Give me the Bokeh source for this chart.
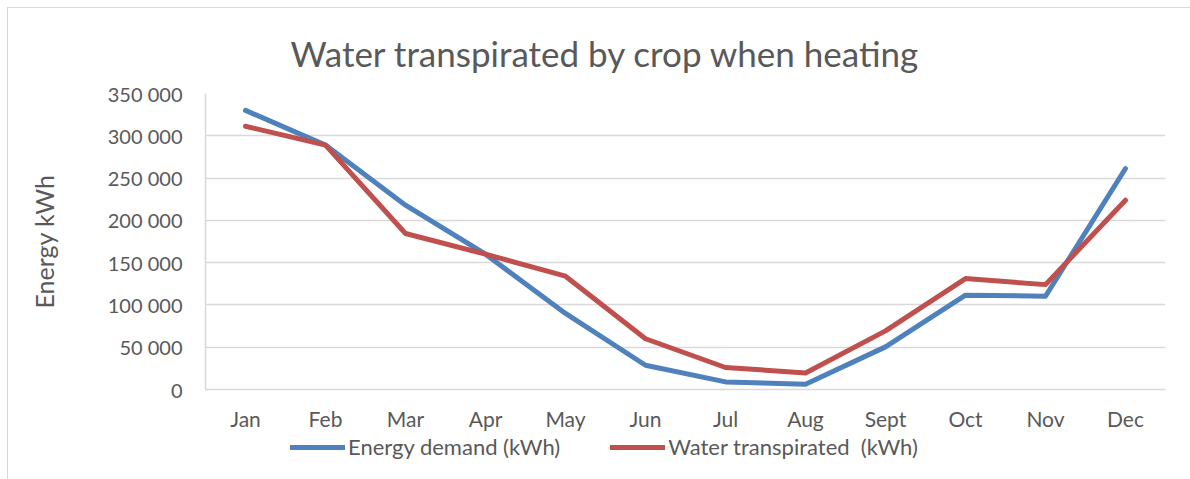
from bokeh.plotting import figure
from bokeh.models import FactorRange, Range1d, FixedTicker, Legend, LegendItem, Title, LinearAxis
from bokeh.layouts import column
from bokeh.embed import file_html
from bokeh.resources import INLINE

months = ["Jan", "Feb", "Mar", "Apr", "May", "Jun", "Jul", "Aug", "Sept", "Oct", "Nov", "Dec"]
energy_demand = [330000, 289000, 218000, 160000, 90000, 28700, 9000, 6300, 50400, 111500, 110300, 261300]
water_transpirated = [311300, 289000, 184500, 160000, 134000, 60000, 26000, 19600, 69300, 131200, 124000, 223800]
y_ticks = [0, 50000, 100000, 150000, 200000, 250000, 300000, 350000]
y_tick_labels = ["0", "50 000", "100 000", "150 000", "200 000", "250 000", "300 000", "350 000"]
series_names = ["Energy demand (kWh)", "Water transpirated  (kWh)"]
series_values = [energy_demand, water_transpirated]
series_colors = ["#4F81BD", "#C0504D"]

FONT = "Lato"
TXT = "#595959"
GRID = "#d9d9d9"

p = figure(width=1182, height=426, output_backend="svg", toolbar_location=None,
           x_range=FactorRange(*months, range_padding=0), y_range=Range1d(0, 350000),
           min_border_left=197, min_border_right=25, min_border_top=85, min_border_bottom=45)
p.outline_line_color = None
p.background_fill_color = "white"
p.border_fill_color = "white"

t = Title(text="Water transpirated by crop when heating", align="left", offset=85,
          text_font=FONT, text_font_size="35px", text_font_style="normal", text_color=TXT,
          standoff=39)
p.add_layout(t, "above")

for vals, c in zip(series_values, series_colors):
    p.line(months, vals, line_color=c, line_width=5, line_cap="round", line_join="round")

p.yaxis.ticker = FixedTicker(ticks=y_ticks)
p.yaxis.major_label_overrides = {t_: s for t_, s in zip(y_ticks, y_tick_labels)}
for ax in (p.xaxis[0], p.yaxis[0]):
    ax.axis_line_color = GRID
    ax.axis_line_width = 1.5
    ax.major_tick_line_color = None
    ax.minor_tick_line_color = None
    ax.major_tick_out = 0
    ax.major_tick_in = 0
    ax.minor_tick_out = 0
    ax.major_label_text_font = FONT
    ax.major_label_text_color = TXT
p.yaxis.major_label_text_font_size = "20px"
p.xaxis.major_label_text_font_size = "21px"
p.yaxis.major_label_standoff = 23
p.xaxis.major_label_standoff = 16

# axis title on its own label-only axis
label_axis = LinearAxis(axis_label="Energy kWh", ticker=FixedTicker(ticks=[]),
                        axis_line_color=None, major_tick_line_color=None, minor_tick_line_color=None,
                        major_tick_out=0, major_tick_in=0, minor_tick_out=0,
                        major_label_text_font_size="0px", major_label_standoff=0,
                        axis_label_standoff=46, axis_label_text_font=FONT,
                        axis_label_text_font_size="25px", axis_label_text_font_style="normal",
                        axis_label_text_color=TXT)
p.add_layout(label_axis, "left")

p.xgrid.grid_line_color = None
p.ygrid.grid_line_color = GRID
p.ygrid.grid_line_width = 1.5

# legend strip below the chart (proxy lines fall outside its visible range)
pl = figure(width=1182, height=45, output_backend="svg", toolbar_location=None,
            x_range=FactorRange(*months, range_padding=0), y_range=Range1d(0, 1),
            x_axis_location=None, y_axis_location=None,
            min_border_left=0, min_border_right=0, min_border_top=0, min_border_bottom=0)
pl.outline_line_color = None
pl.grid.visible = False
proxies = [pl.line(months, vals, line_color=c, line_width=5, line_cap="round")
           for vals, c in zip(series_values, series_colors)]
legend = Legend(items=[LegendItem(label=n, renderers=[r]) for n, r in zip(series_names, proxies)],
                orientation="horizontal", location=(85, 19),
                label_text_font=FONT, label_text_font_size="22px", label_text_color=TXT,
                glyph_width=55, glyph_height=22, spacing=50, label_standoff=3,
                padding=0, margin=0, border_line_color=None, background_fill_alpha=0)
pl.add_layout(legend, "center")

layout = column(p, pl, spacing=0)
layout.styles = {"margin-left": "7px", "margin-top": "7px",
                 "border-left": "1px solid #d9d9d9", "border-top": "1px solid #d9d9d9"}
open("out.html", "w").write(file_html(layout, INLINE))
